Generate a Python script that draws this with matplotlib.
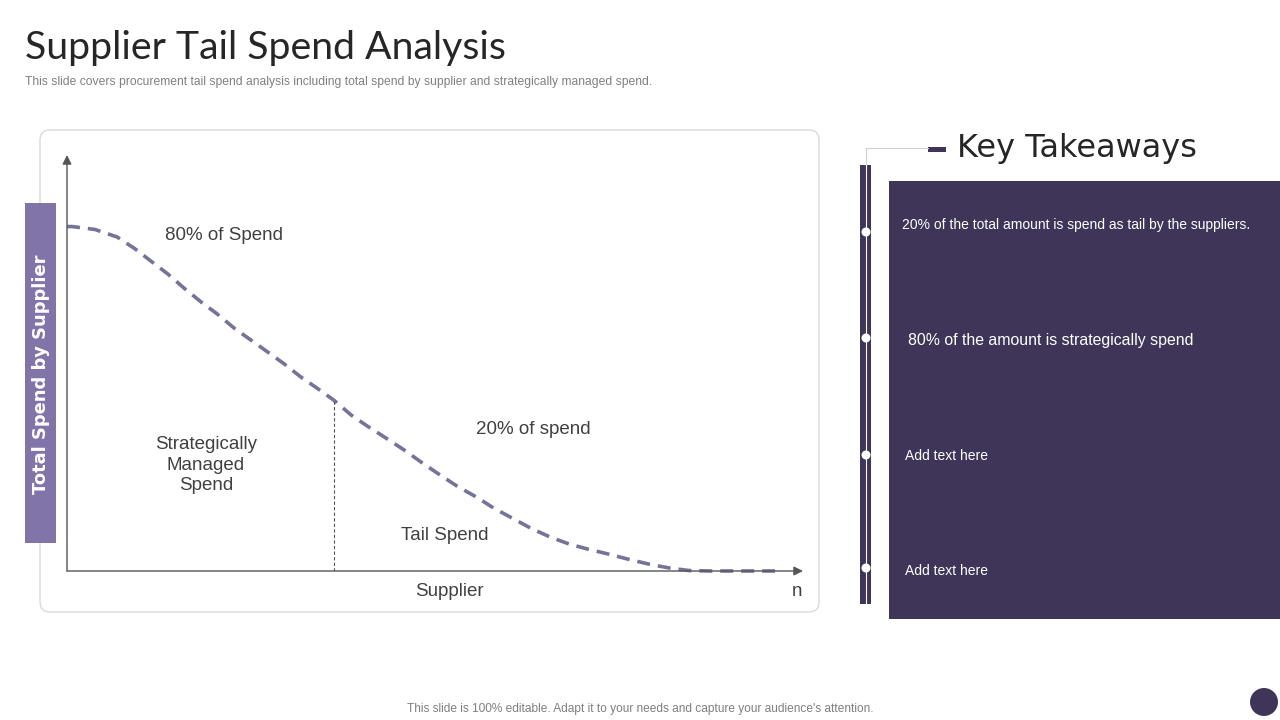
import matplotlib
matplotlib.use('Agg')
import matplotlib.pyplot as plt
from matplotlib.patches import FancyBboxPatch, Rectangle, Circle

# ---------- data ----------
# supplier position (0-100 along x axis) and spend level (0-100 along y axis)
supplier = [0, 0.7, 3.8, 6.8, 9.2, 11.4, 13.7, 15.9, 18.2, 20.4, 22.7, 25.0, 27.3, 29.5,
            31.8, 34.1, 36.3, 38.6, 41.0, 43.3, 45.8, 48.1, 50.5, 53.0, 55.6, 58.0,
            60.5, 63.0, 65.6, 68.2, 70.9, 73.5, 76.1, 79.2, 81.9, 84.6, 87.4, 91.4, 96.2]
spend = [82.8, 82.8, 82.1, 80.3, 77.5, 74.5, 71.4, 68.0, 64.7, 61.8, 58.4, 55.5, 52.6,
         49.8, 46.6, 43.8, 41.0, 37.5, 34.6, 32.0, 29.1, 26.2, 23.3, 20.4, 17.8, 15.1,
         12.7, 10.3, 8.2, 6.5, 5.2, 4.1, 2.9, 1.6, 0.7, 0.1, 0, 0, 0]
split_idx = 16  # strategic / tail split point

title = 'Supplier Tail Spend Analysis'
subtitle = ('This slide covers procurement tail spend analysis including total spend '
            'by supplier and strategically managed spend.')
y_label = 'Total Spend by Supplier'
x_label = 'Supplier'
takeaways = ['20% of the total amount is spend as tail by the suppliers.',
             '80% of the amount is strategically spend',
             'Add text here',
             'Add text here']
footer = "This slide is 100% editable. Adapt it to your needs and capture your audience's attention."

DARK = '#3f3558'
LIGHT = '#8174a8'
CURVE = '#76739a'
TXT = '#404040'

fig = plt.figure(figsize=(12.8, 7.2), dpi=100)
fig.patch.set_facecolor('white')

# overlay in pixel coordinates
bg = fig.add_axes([0, 0, 1, 1])
bg.set_xlim(0, 1280)
bg.set_ylim(720, 0)
bg.axis('off')

# title
bg.text(25, 48, title, fontsize=28.3, family='Lato', color='#262626',
        va='center', ha='left')
bg.text(25, 82, subtitle, fontsize=8.72, family='Liberation Sans', color='#808080',
        va='center', ha='left')

# chart frame
bg.add_patch(FancyBboxPatch((40, 130), 779, 482, boxstyle='round,pad=0,rounding_size=10',
                            fc='white', ec='#d9d9d9', lw=1))
# y label bar
bg.add_patch(Rectangle((25, 203), 31, 340, fc=LIGHT, ec='none'))
bg.text(41, 374, y_label, rotation=90, fontsize=12.9, family='DejaVu Sans', weight='bold',
        color='white', ha='center', va='center')

# chart text
lab = dict(family='Liberation Sans', color=TXT, fontsize=13.5)
bg.text(165, 235, '80% of Spend', ha='left', va='center', **lab)
bg.text(206, 465, 'Strategically\nManaged\nSpend', ha='center', va='center',
        linespacing=1.25, **lab)
bg.text(476, 430, '20% of spend', ha='left', va='center', **lab)
bg.text(401, 536, 'Tail Spend', ha='left', va='center', **lab)
bg.text(449, 591, x_label, ha='center', va='center', **lab)
bg.text(797, 592, 'n', ha='center', va='center', **lab)

# chart axes
ax = fig.add_axes([67 / 1280, (720 - 571) / 720, 736 / 1280, 416 / 720])
ax.set_xlim(0, 100)
ax.set_ylim(0, 100)
ax.axis('off')
ax.patch.set_alpha(0)
arrow = dict(arrowstyle='-|>,head_length=0.6,head_width=0.3', color='#555555', lw=1,
             mutation_scale=9, shrinkA=0, shrinkB=0)
ax.annotate('', xy=(0, 100), xytext=(0, 0), arrowprops=arrow, annotation_clip=False)
ax.annotate('', xy=(100, 0), xytext=(0, 0), arrowprops=arrow, annotation_clip=False)
ax.plot(supplier, spend, color=CURVE, lw=2.6, linestyle=(0, (3.6, 2.2)),
        dash_capstyle='butt', clip_on=False)
ax.plot([supplier[split_idx]] * 2, [0, spend[split_idx]], color='#555555', lw=0.8,
        linestyle=(0, (3, 2)))

# ---------- key takeaways ----------
bg.plot([866, 928], [148, 148], color='#cfcfcf', lw=0.8)
bg.plot([866, 866], [148, 166], color='#cfcfcf', lw=0.8)
bg.add_patch(Rectangle((928, 147), 18, 5, fc=DARK, ec='none'))
bg.text(957, 148, 'Key Takeaways', fontsize=23, family='DejaVu Sans', color='#262626',
        ha='left', va='center')

bg.add_patch(Rectangle((860, 165), 11, 439, fc=DARK, ec='none'))
bg.plot([866, 866], [165, 604], color='white', lw=0.8)
bg.add_patch(Rectangle((889, 181), 391, 438, fc=DARK, ec='none'))

dot_y = [232, 338, 455, 568]
txt_x = [902, 908, 905, 905]
txt_y = [225, 340, 456, 571]
txt_size = [10, 11.45, 10, 10]
for i, t in enumerate(takeaways):
    bg.add_patch(Circle((866, dot_y[i]), 4.5, fc='white', ec='none'))
    bg.text(txt_x[i], txt_y[i], t, fontsize=txt_size[i], family='Liberation Sans',
            color='white', ha='left', va='center')

# footer
bg.text(640, 709, footer, fontsize=8.6, family='Liberation Sans', color='#7f7f7f',
        ha='center', va='center')
bg.add_patch(Circle((1264, 702), 14, fc=DARK, ec='none'))

fig.savefig('out.png', dpi=100)
